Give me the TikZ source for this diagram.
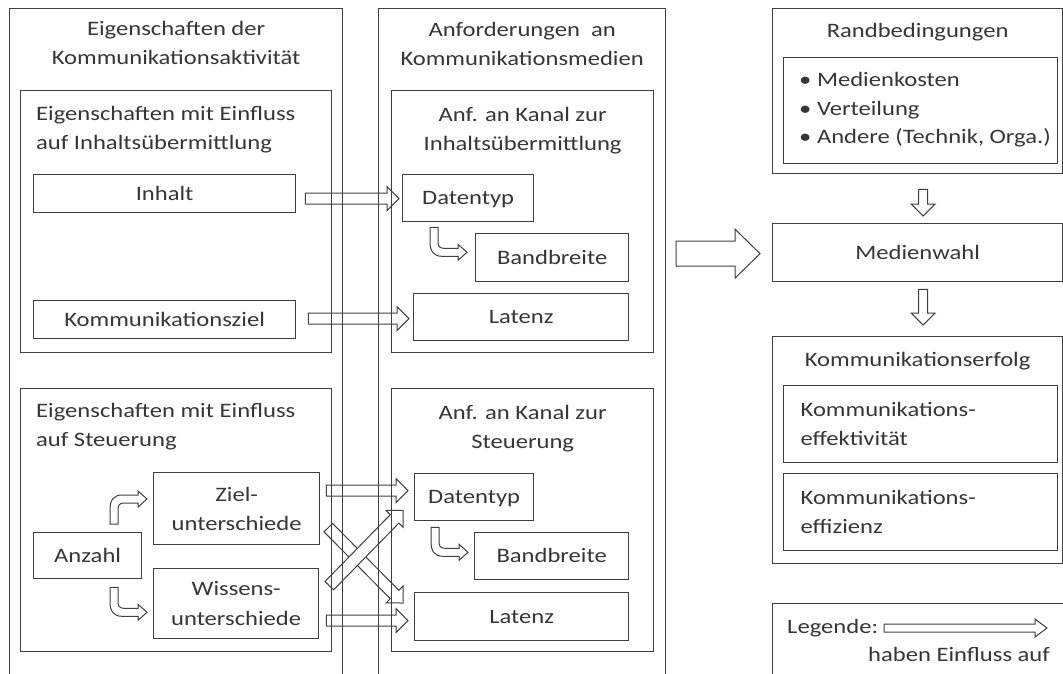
\documentclass[tikz,border=0pt]{standalone}
\usepackage{fontspec}
\setmainfont{Carlito}[FakeStretch=1.2]
\usetikzlibrary{positioning,calc,backgrounds}
\definecolor{linegray}{HTML}{3F3F3F}
\definecolor{textgray}{HTML}{363636}

\newcommand{\blockarrow}[5]{%
  \coordinate (ba-s) at #1;
  \coordinate (ba-e) at #2;
  \coordinate (ba-h) at ($(ba-e)!#5!(ba-s)$);
  \draw[hollow] ($(ba-s)!#3!90:(ba-e)$) -- ($(ba-h)!#3!90:(ba-e)$)
    -- ($(ba-h)!#4!90:(ba-e)$) -- (ba-e) -- ($(ba-h)!#4!-90:(ba-e)$)
    -- ($(ba-h)!#3!-90:(ba-e)$) -- ($(ba-s)!#3!-90:(ba-e)$) -- cycle;
}
\newcommand{\bentarrow}[2][]{%
  \draw[hollow, shift={#2}, #1] (0,0) -- (0,15) .. controls (0,24) and (4,29) .. (12,29)
    -- (28,29) -- (28,33) -- (37,25) -- (28,17) -- (28,21) -- (14,21)
    .. controls (10,21) and (8,19) .. (8,15) -- (8,0) -- cycle;
}

\begin{document}
\begin{tikzpicture}[x=1pt, y=-1pt, font=\fontsize{20.5}{29.4}\selectfont, text=textgray]
  \tikzstyle{panel}=[draw=linegray, line width=1.3pt, anchor=north west, inner sep=0pt]
  \tikzstyle{cell}=[panel, text height=13pt, text depth=0pt]
  \tikzstyle{heading}=[inner sep=0pt, align=center]
  \tikzstyle{hollow}=[draw=linegray, fill=white, line width=1pt]
  \tikzset{boxsize/.style 2 args={minimum width=#1pt, minimum height=#2pt}}
  \useasboundingbox (0,0) rectangle (1063,673);
  \clip (0,0) rectangle (1063,673);

  \node[panel, boxsize={333}{692}] (aktiv) at (9,8) {};
  \node[heading, below=13pt of aktiv.north] (aktivtitle) {Eigenschaften der\\Kommunikationsaktivität};
  \node[panel, boxsize={311}{262}] (inhalteig) at (20,90) {};
  \node[heading, align=left, below right=16pt and 16pt of inhalteig.north west] (inhalteigtitle) {Eigenschaften mit Einfluss\\auf Inhaltsübermittlung};
  \node[cell, boxsize={262}{38}] (inhalt) at (33,174) {Inhalt};
  \node[cell, boxsize={262}{38}] (kziel) at (33,300) {Kommunikationsziel};
  \node[panel, boxsize={311}{263}] (steuereig) at (20,388) {};
  \node[heading, align=left, below right=15pt and 16pt of steuereig.north west] (steuereigtitle) {Eigenschaften mit Einfluss\\auf Steuerung};
  \node[panel, align=center, boxsize={166}{72}] (ziel) at (153,472) {Ziel-\\unterschiede};
  \node[cell, boxsize={108}{46}] (anzahl) at (33,532) {Anzahl};
  \node[panel, align=center, boxsize={165}{70}] (wissens) at (153,568) {Wissens-\\unterschiede};

  \node[panel, boxsize={287}{692}] (anford) at (378,8) {};
  \node[heading, below=14pt of anford.north] (anfordtitle) {Anforderungen\ \ an\\Kommunikationsmedien};
  \node[panel, boxsize={262}{262}] (inhaltanf) at (391,90) {};
  \node[heading, below=17pt of inhaltanf.north] (inhaltanftitle) {Anf. an Kanal zur\\Inhaltsübermittlung};
  \node[cell, boxsize={131}{47}] (dt1) at (402,174) {Datentyp};
  \node[cell, boxsize={153}{48}] (bb1) at (475,233) {Bandbreite};
  \node[cell, boxsize={215}{47}] (lat1) at (413,293) {Latenz};
  \node[panel, boxsize={262}{263}] (steueranf) at (391,388) {};
  \node[heading, below=17pt of steueranf.north] (steueranftitle) {Anf. an Kanal zur\\Steuerung};
  \node[cell, boxsize={119}{47}] (dt2) at (414,473) {Datentyp};
  \node[cell, boxsize={154}{47}] (bb2) at (474,532) {Bandbreite};
  \node[cell, boxsize={214}{48}] (lat2) at (414,592) {Latenz};

  \node[panel, boxsize={290}{165}] (rand) at (772,8) {};
  \node[heading, below=15pt of rand.north] (randtitle) {Randbedingungen};
  \node[panel, boxsize={274}{106}] (randlist) at (783,57) {};
  \node[heading, align=left, font=\fontsize{20.5}{28.6}\selectfont, below right=15pt and 16pt of randlist.north west] (randitems) {• Medienkosten\\• Verteilung\\• Andere (Technik, Orga.)};
  \node[cell, boxsize={290}{58}] (mw) at (772,223) {Medienwahl};
  \node[panel, boxsize={290}{227}] (erfolg) at (772,336) {};
  \node[heading, below=16pt of erfolg.north] (erfolgtitle) {Kommunikationserfolg};
  \node[panel, align=left, text width=240pt, boxsize={274}{77}] (eff1) at (783,385) {Kommunikations-\\effektivität};
  \node[panel, align=left, text width=240pt, boxsize={274}{77}] (eff2) at (783,473) {Kommunikations-\\effizienz};
  \node[panel, boxsize={300}{100}] (legend) at (772,603) {};
  \node[anchor=base west, inner sep=0pt] (legendtext) at ($(legend.north west)+(15,30)$) {Legende:};
  \node[anchor=base west, inner sep=0pt] (legendinfo) at ($(legend.north west)+(96,58)$) {haben Einfluss auf};

  \begin{scope}[on background layer]
    \fill[white] (0,0) rectangle (1063,673);
    \blockarrow{($(inhalt.east)+(9,5)$)}{($(inhalt.east -| dt1.west)+(-3,5)$)}{5.5pt}{12pt}{12pt}
    \blockarrow{($(kziel.east)+(12,-1)$)}{($(kziel.east -| lat1.west)+(-4,-1)$)}{5.5pt}{12pt}{12pt}
    \blockarrow{($(ziel.east)+(6,-18)$)}{($(ziel.east -| dt2.west)+(-6,-18)$)}{5.5pt}{12pt}{12pt}
    \blockarrow{($(wissens.east)+(7,17)$)}{($(wissens.east -| lat2.west)+(-6,17)$)}{5.5pt}{12pt}{12pt}
    \blockarrow{($(ziel.east)+(8,19)$)}{($(lat2.north west)+(-11,11)$)}{6pt}{12pt}{12pt}
    \blockarrow{($(wissens.east)+(10,-18)$)}{($(dt2.south west)+(-11,-11)$)}{6pt}{12pt}{12pt}
    \blockarrow{($(mw.west)+(-96,1)$)}{($(mw.west)+(-12,1)$)}{12.5pt}{24.5pt}{25pt}
    \blockarrow{($(rand.south)+(5.5,15)$)}{($(mw.north)+(5.5,-7)$)}{4.5pt}{12pt}{12pt}
    \blockarrow{($(mw.south)+(5.5,7)$)}{($(erfolg.north)+(5.5,-11)$)}{4.5pt}{12pt}{12pt}
    \blockarrow{($(legend.north west)+(112,25)$)}{($(legend.north west)+(275,25)$)}{4pt}{9pt}{12pt}
    \bentarrow{($(dt1.south west)+(28,5)$)}
    \bentarrow{($(dt2.south west)+(17,6)$)}
    \bentarrow[yscale=-1]{($(anzahl.north west)+(77,-8)$)}
    \bentarrow{($(anzahl.south west)+(77,8)$)}
  \end{scope}
\end{tikzpicture}
\end{document}
